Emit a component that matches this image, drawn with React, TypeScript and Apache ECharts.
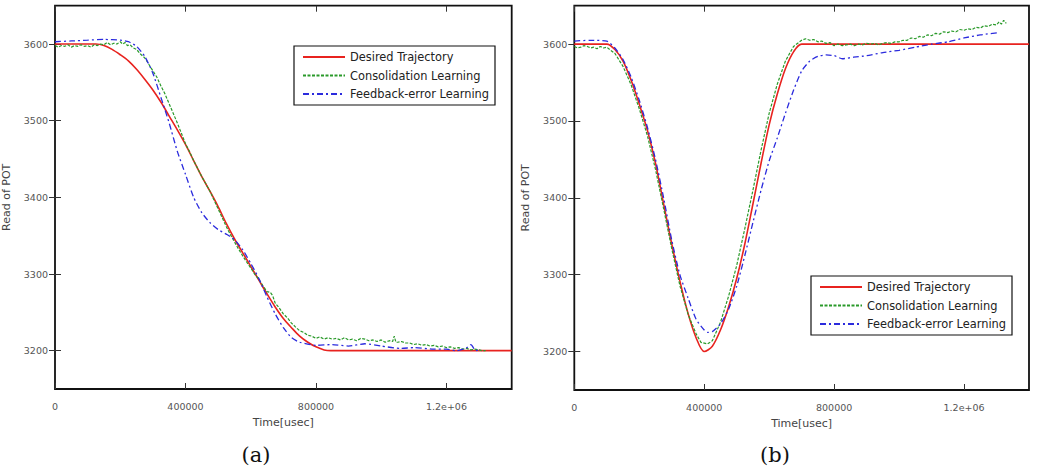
import React, { useEffect, useRef } from "react";
import * as echarts from "echarts";

// ---------- tick labels ----------
const xTicks = [0, 400000, 800000, 1200000];
const yTicks = [3200, 3300, 3400, 3500, 3600];
const seriesNames = ["Desired Trajectory", "Consolidation Learning", "Feedback-error Learning"];
const captions = ["(a)", "(b)"];

// ---------- chart (a) ----------
const aDesiredT = [0, 50000, 100000, 125000, 150000, 175000, 200000, 225000, 250000, 275000, 300000, 325000, 350000, 375000, 400000, 425000, 450000, 475000, 500000, 525000, 550000, 575000, 600000, 625000, 650000, 675000, 700000, 725000, 750000, 775000, 800000, 825000, 845000, 1400000];
const aDesiredV = [3600, 3600, 3600, 3600, 3598, 3593, 3586, 3578, 3567, 3554, 3540, 3524, 3506, 3488, 3469, 3448, 3427, 3408, 3388, 3366, 3346, 3328, 3310, 3292, 3274, 3257, 3242, 3230, 3219, 3211, 3205, 3201, 3200, 3200];

const aConsT = [0, 10000, 20000, 30000, 40000, 50000, 60000, 70000, 80000, 90000, 100000, 110000, 120000, 130000, 140000, 150000, 160000, 170000, 180000, 190000, 200000, 207000, 215000, 222000, 230000, 240000, 250000, 262000, 275000, 287000, 300000, 312000, 325000, 337000, 350000, 362000, 375000, 387000, 400000, 412000, 425000, 437000, 450000, 462000, 475000, 487000, 500000, 512000, 525000, 537000, 550000, 562000, 575000, 587000, 600000, 612000, 625000, 637000, 650000, 660000, 667000, 675000, 687000, 700000, 712000, 725000, 737000, 750000, 762000, 775000, 787000, 800000, 812000, 825000, 837000, 850000, 862000, 875000, 887000, 900000, 912000, 925000, 937000, 950000, 962000, 975000, 987000, 1000000, 1012000, 1025000, 1035000, 1040000, 1045000, 1050000, 1062000, 1075000, 1087000, 1100000, 1112000, 1125000, 1137000, 1150000, 1162000, 1175000, 1187000, 1200000, 1212000, 1225000, 1237000, 1250000, 1262000, 1275000, 1287000, 1300000, 1310000, 1320000];
const aConsV = [3598, 3596, 3598, 3597, 3599, 3596, 3598, 3597, 3599, 3597, 3598, 3596, 3599, 3598, 3600, 3599, 3602, 3599, 3601, 3600, 3603, 3600, 3602, 3598, 3599, 3595, 3593, 3587, 3582, 3574, 3565, 3557, 3545, 3535, 3522, 3510, 3497, 3484, 3470, 3460, 3448, 3438, 3427, 3418, 3408, 3397, 3385, 3374, 3362, 3352, 3342, 3333, 3324, 3316, 3308, 3300, 3293, 3285, 3277, 3276, 3272, 3262, 3256, 3248, 3243, 3236, 3231, 3226, 3224, 3220, 3219, 3216, 3218, 3215, 3217, 3215, 3216, 3214, 3217, 3214, 3215, 3213, 3216, 3215, 3213, 3214, 3212, 3214, 3211, 3213, 3212, 3219, 3211, 3211, 3212, 3210, 3210, 3208, 3209, 3207, 3208, 3206, 3207, 3205, 3206, 3204, 3205, 3203, 3204, 3202, 3203, 3201, 3202, 3201, 3200, 3200];

const aFelT = [0, 50000, 100000, 150000, 200000, 225000, 250000, 275000, 300000, 325000, 350000, 375000, 400000, 425000, 450000, 475000, 500000, 525000, 550000, 575000, 600000, 625000, 650000, 675000, 700000, 725000, 750000, 800000, 850000, 900000, 950000, 1000000, 1060000, 1100000, 1160000, 1200000, 1230000, 1260000, 1275000, 1290000, 1300000];
const aFelV = [3603, 3604, 3605, 3606, 3605, 3603, 3597, 3584, 3562, 3530, 3497, 3460, 3430, 3400, 3380, 3367, 3358, 3352, 3345, 3332, 3314, 3294, 3270, 3248, 3230, 3217, 3211, 3207, 3208, 3206, 3209, 3206, 3203, 3204, 3202, 3202, 3200, 3203, 3208, 3200, 3201];

// ---------- chart (b) ----------
const bDesiredT = [0, 100000, 125000, 150000, 175000, 200000, 225000, 250000, 275000, 300000, 325000, 350000, 375000, 400000, 425000, 450000, 475000, 500000, 525000, 550000, 575000, 600000, 625000, 650000, 675000, 700000, 1400000];
const bDesiredV = [3600, 3600, 3593, 3578, 3553, 3522, 3488, 3445, 3392, 3340, 3292, 3250, 3218, 3200, 3207, 3228, 3258, 3295, 3340, 3392, 3445, 3495, 3535, 3568, 3590, 3600, 3600];

const bConsT = [0, 10000, 20000, 30000, 40000, 50000, 60000, 70000, 80000, 90000, 100000, 112000, 125000, 150000, 175000, 200000, 225000, 250000, 275000, 300000, 325000, 350000, 375000, 390000, 400000, 410000, 425000, 450000, 475000, 500000, 525000, 550000, 575000, 600000, 625000, 650000, 675000, 700000, 712000, 725000, 737000, 750000, 762000, 775000, 787000, 800000, 812000, 825000, 837000, 850000, 862000, 875000, 887000, 900000, 912000, 925000, 937000, 950000, 962000, 975000, 987000, 1000000, 1012000, 1025000, 1037000, 1050000, 1062000, 1075000, 1087000, 1100000, 1112000, 1125000, 1137000, 1150000, 1162000, 1175000, 1187000, 1200000, 1212000, 1225000, 1237000, 1250000, 1262000, 1275000, 1287000, 1300000, 1308000, 1315000, 1322000, 1330000];
const bConsV = [3597, 3595, 3596, 3598, 3597, 3595, 3596, 3594, 3597, 3595, 3596, 3592, 3588, 3571, 3547, 3516, 3481, 3437, 3386, 3334, 3286, 3249, 3223, 3212, 3211, 3210, 3214, 3238, 3272, 3312, 3360, 3410, 3462, 3510, 3548, 3578, 3597, 3605, 3607, 3605, 3606, 3603, 3604, 3601, 3602, 3598, 3600, 3598, 3599, 3600, 3598, 3600, 3599, 3601, 3600, 3601, 3599, 3601, 3602, 3601, 3603, 3603, 3605, 3605, 3608, 3607, 3610, 3609, 3612, 3611, 3614, 3613, 3616, 3615, 3617, 3616, 3619, 3618, 3620, 3619, 3622, 3621, 3624, 3623, 3626, 3625, 3629, 3626, 3631, 3627];

const bFelT = [0, 50000, 100000, 125000, 150000, 175000, 200000, 225000, 250000, 275000, 300000, 325000, 350000, 375000, 400000, 410000, 425000, 450000, 475000, 500000, 525000, 550000, 575000, 600000, 625000, 650000, 675000, 700000, 725000, 750000, 775000, 800000, 825000, 860000, 900000, 950000, 1000000, 1050000, 1100000, 1150000, 1200000, 1250000, 1310000];
const bFelV = [3604, 3605, 3604, 3595, 3580, 3557, 3527, 3492, 3450, 3400, 3345, 3300, 3270, 3242, 3228, 3225, 3226, 3236, 3255, 3285, 3325, 3368, 3410, 3448, 3478, 3510, 3540, 3565, 3578, 3584, 3586, 3585, 3581, 3583, 3585, 3589, 3592, 3596, 3600, 3603, 3608, 3612, 3615];

const panels = [
  { desired: [aDesiredT, aDesiredV], cons: [aConsT, aConsV], fel: [aFelT, aFelV] },
  { desired: [bDesiredT, bDesiredV], cons: [bConsT, bConsV], fel: [bFelT, bFelV] },
];

const FONT = "DejaVu Sans";
const RED = "#e8231f";
const GREEN = "#2a9a2a";
const BLUE = "#2b2bdd";

const zip = (t: number[], v: number[]) => t.map((x, i) => [x, v[i]]);

export default function App() {
  const ref = useRef<HTMLDivElement>(null);
  useEffect(() => {
    document.body.style.margin = "0";
    const chart = echarts.init(ref.current!, undefined, { renderer: "svg" });
    const grids = [
      { left: 54.3, top: 5.7, width: 457.4, height: 383.3 },
      { left: 574.3, top: 5.7, width: 454.7, height: 384.3 },
    ];
    const xAxis: any[] = [];
    const yAxis: any[] = [];
    grids.forEach((_, gi) => {
      const tick = { inside: true, length: 6, lineStyle: { color: "#333", width: 1 } };
      xAxis.push({
        type: "value", gridIndex: gi, min: 0, max: 1400000, position: "bottom",
        name: "Time[usec]", nameLocation: "middle", nameGap: 28,
        nameTextStyle: { fontSize: 11, color: "#444", fontFamily: FONT },
        axisLine: { show: false }, splitLine: { show: false },
        axisTick: { ...tick, customValues: xTicks },
        axisLabel: {
          customValues: xTicks, fontSize: 9.5, color: "#555", fontFamily: FONT, margin: 12,
          formatter: (v: number) => (v === 1200000 ? "1.2e+06" : String(v)),
        },
      });
      xAxis.push({
        type: "value", gridIndex: gi, min: 0, max: 1400000, position: "top",
        axisLine: { show: false }, splitLine: { show: false },
        axisTick: { ...tick, customValues: xTicks },
        axisLabel: { show: false, customValues: xTicks },
      });
      yAxis.push({
        type: "value", gridIndex: gi, min: 3150, max: 3650, position: "left",
        name: "Read of POT", nameLocation: "middle", nameGap: 43, nameRotate: 90,
        nameTextStyle: { fontSize: 11, color: "#444", fontFamily: FONT },
        axisLine: { show: false }, splitLine: { show: false },
        axisTick: { ...tick, customValues: yTicks },
        axisLabel: { customValues: yTicks, fontSize: 9.5, color: "#555", fontFamily: FONT, margin: 7,
          formatter: (v: number) => String(v) },
      });
      yAxis.push({
        type: "value", gridIndex: gi, min: 3150, max: 3650, position: "right",
        axisLine: { show: false }, splitLine: { show: false },
        axisTick: { ...tick, customValues: yTicks },
        axisLabel: { show: false, customValues: yTicks },
      });
    });

    const series: any[] = [];
    panels.forEach((p, gi) => {
      const common = { type: "line", xAxisIndex: gi * 2, yAxisIndex: gi * 2, symbol: "none", silent: true };
      series.push({ ...common, name: seriesNames[0], data: zip(p.desired[0], p.desired[1]), z: 3, smooth: 0.3,
        lineStyle: { color: RED, width: 1.6, type: "solid" }, itemStyle: { color: RED } });
      series.push({ ...common, name: seriesNames[1], data: zip(p.cons[0], p.cons[1]), z: 4,
        lineStyle: { color: GREEN, width: 1.2, type: [3, 1.5] }, itemStyle: { color: GREEN } });
      series.push({ ...common, name: seriesNames[2], data: zip(p.fel[0], p.fel[1]), z: 5, smooth: 0.2,
        lineStyle: { color: BLUE, width: 1.3, type: [6, 3, 2, 3] }, itemStyle: { color: BLUE } });
    });

    const legendBase = {
      orient: "vertical", data: seriesNames, itemWidth: 42, itemHeight: 10, itemGap: 6.5,
      borderColor: "#111", borderWidth: 1.2, padding: [5, 6, 5, 8], selectedMode: false,
      itemStyle: { opacity: 0, borderWidth: 0 },
      textStyle: { fontSize: 11.4, color: "#222", fontFamily: FONT, lineHeight: 12 },
    };

    chart.setOption({
      animation: false,
      backgroundColor: "#fff",
      grid: grids.map((g) => ({ ...g, show: true, borderColor: "#111", borderWidth: 1.8, backgroundColor: "transparent" })),
      xAxis, yAxis, series,
      legend: [
        { ...legendBase, left: 294, top: 46 },
        { ...legendBase, left: 811, top: 276 },
      ],
      graphic: [
        { type: "text", x: 256, y: 455, style: { text: captions[0], font: '21px "DejaVu Serif"', fill: "#111", align: "center", verticalAlign: "middle" } },
        { type: "text", x: 775, y: 455, style: { text: captions[1], font: '21px "DejaVu Serif"', fill: "#111", align: "center", verticalAlign: "middle" } },
      ],
    });
    return () => chart.dispose();
  }, []);
  return <div ref={ref} style={{ width: 1047, height: 466, position: "absolute", left: 0, top: 0 }} />;
}
